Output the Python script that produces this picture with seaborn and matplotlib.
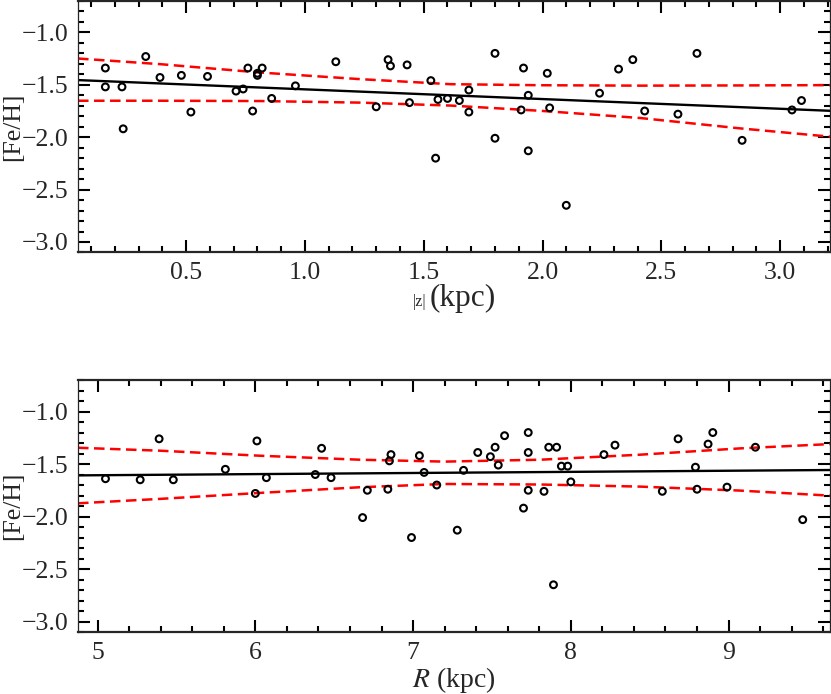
import matplotlib
matplotlib.use('Agg')
import matplotlib.pyplot as plt
import seaborn as sns
from matplotlib.ticker import MultipleLocator, FuncFormatter

sns.set_style('ticks')
plt.rcParams['font.family'] = ['Liberation Serif', 'DejaVu Serif']
plt.rcParams['mathtext.fontset'] = 'stix'

# |z| panel: stars
z_kpc = [0.16, 0.16, 0.23, 0.235, 0.33, 0.39, 0.48, 0.52, 0.59, 0.71,
         0.74, 0.76, 0.78, 0.80, 0.80, 0.82, 0.86, 0.96, 1.13, 1.30,
         1.35, 1.36, 1.43, 1.44, 1.53, 1.55, 1.56, 1.60, 1.65, 1.69,
         1.69, 1.80, 1.80, 1.91, 1.92, 1.94, 1.94, 2.02, 2.03, 2.10,
         2.24, 2.32, 2.38, 2.43, 2.57, 2.65, 2.84, 3.05, 3.09]
feh_z = [-1.34, -1.52, -1.52, -1.92, -1.23, -1.43, -1.41, -1.76, -1.42, -1.56,
         -1.54, -1.34, -1.75, -1.39, -1.41, -1.34, -1.63, -1.51, -1.28, -1.71,
         -1.26, -1.32, -1.31, -1.67, -1.46, -2.20, -1.64, -1.63, -1.65, -1.55,
         -1.76, -1.20, -2.01, -1.74, -1.34, -1.60, -2.13, -1.39, -1.72, -2.65,
         -1.58, -1.35, -1.26, -1.75, -1.78, -1.20, -2.03, -1.74, -1.65]

# |z| panel: fit and band
z_fit = [0.045, 3.21]
feh_z_fit = [-1.455, -1.748]
z_band = [0.045, 0.391, 0.812, 1.233, 1.612, 1.991, 2.412, 2.833, 3.21]
z_band_hi = [-1.249, -1.303, -1.383, -1.446, -1.494, -1.504, -1.508, -1.506, -1.503]
z_band_lo = [-1.652, -1.652, -1.655, -1.670, -1.698, -1.748, -1.817, -1.916, -1.995]

# R panel: stars
r_kpc = [5.05, 5.27, 5.39, 5.48, 5.81, 6.00, 6.01, 6.07, 6.38, 6.42,
         6.48, 6.68, 6.71, 6.84, 6.85, 6.86, 6.99, 7.04, 7.07, 7.15,
         7.28, 7.32, 7.41, 7.49, 7.52, 7.54, 7.58, 7.70, 7.73, 7.73,
         7.73, 7.83, 7.86, 7.89, 7.91, 7.94, 7.98, 8.00, 8.21, 8.28,
         8.58, 8.68, 8.79, 8.80, 8.87, 8.90, 8.99, 9.17, 9.47]
feh_r = [-1.64, -1.65, -1.26, -1.65, -1.55, -1.78, -1.28, -1.63, -1.60, -1.35,
         -1.63, -2.01, -1.75, -1.74, -1.47, -1.41, -2.20, -1.42, -1.58, -1.70,
         -2.13, -1.56, -1.39, -1.43, -1.34, -1.51, -1.23, -1.92, -1.20, -1.39,
         -1.75, -1.76, -1.34, -2.65, -1.34, -1.52, -1.52, -1.67, -1.41, -1.32,
         -1.76, -1.26, -1.53, -1.74, -1.31, -1.20, -1.72, -1.34, -2.03]

r_fit = [4.876, 9.643]
feh_r_fit = [-1.608, -1.557]
r_band = [4.876, 5.396, 6.030, 6.664, 7.2, 7.805, 8.439, 9.073, 9.643]
r_band_hi = [-1.345, -1.373, -1.421, -1.459, -1.477, -1.459, -1.411, -1.351, -1.310]
r_band_lo = [-1.874, -1.832, -1.775, -1.721, -1.690, -1.695, -1.715, -1.753, -1.801]

fig = plt.figure(figsize=(8.31, 6.94), dpi=100)
ax1 = fig.add_axes([0.0939, 0.6362, 0.9049, 0.3624])
ax2 = fig.add_axes([0.0939, 0.0893, 0.9049, 0.3631])

dash = (0, (4.2, 2.2))
fmt1 = FuncFormatter(lambda v, p: f'{v:.1f}'.replace('-', '\u2212'))
fmt0 = FuncFormatter(lambda v, p: f'{v:.0f}'.replace('-', '\u2212'))


def draw_panel(ax, x, y, xf, yf, xb, hi, lo):
  sns.lineplot(x=xb, y=hi, ax=ax, color='red', linestyle=dash, lw=1.8,
               estimator=None, sort=False)
  sns.lineplot(x=xb, y=lo, ax=ax, color='red', linestyle=dash, lw=1.8,
               estimator=None, sort=False)
  sns.lineplot(x=xf, y=yf, ax=ax, color='black', lw=1.7,
               estimator=None, sort=False)
  sns.scatterplot(x=x, y=y, ax=ax, marker='o', s=24, facecolor='none',
                  edgecolor='black', linewidth=1.5, zorder=3)
  ax.set_ylim(-3.1, -0.7)
  ax.yaxis.set_major_locator(MultipleLocator(0.5))
  ax.yaxis.set_minor_locator(MultipleLocator(0.1))
  ax.yaxis.set_major_formatter(fmt1)
  ax.tick_params(which='both', direction='in', top=True, right=True,
                 width=1.5, color='black', labelsize=18.5)
  ax.tick_params(which='major', length=8.5, pad=7)
  ax.tick_params(which='minor', length=4.5)
  for side in ['top', 'bottom']:
    ax.spines[side].set_linewidth(1.6)
  for side in ['left', 'right']:
    ax.spines[side].set_linewidth(0.9)
  ax.set_ylabel('[Fe/H]', fontsize=18.5)
  ax.yaxis.set_label_coords(-0.072, 0.5)


draw_panel(ax1, z_kpc, feh_z, z_fit, feh_z_fit, z_band, z_band_hi, z_band_lo)
ax1.set_xlim(0.045, 3.21)
ax1.xaxis.set_major_locator(MultipleLocator(0.5))
ax1.xaxis.set_minor_locator(MultipleLocator(0.1))
ax1.xaxis.set_major_formatter(fmt1)
ax1.set_xlabel('(kpc)', fontsize=22.5)
ax1.xaxis.set_label_coords(0.511, -0.125)
ax1.annotate('|z|', xy=(0, 0.12), xycoords=ax1.xaxis.label, xytext=(-2, 0),
             textcoords='offset points', ha='right', va='bottom', fontsize=11.5)

draw_panel(ax2, r_kpc, feh_r, r_fit, feh_r_fit, r_band, r_band_hi, r_band_lo)
ax2.set_xlim(4.876, 9.643)
ax2.xaxis.set_major_locator(MultipleLocator(1))
ax2.xaxis.set_minor_locator(MultipleLocator(0.2))
ax2.xaxis.set_major_formatter(fmt0)
ax2.set_xlabel(r'$R$ (kpc)', fontsize=20)
ax2.xaxis.set_label_coords(0.5, -0.13)

fig.savefig('out.png', dpi=100)
